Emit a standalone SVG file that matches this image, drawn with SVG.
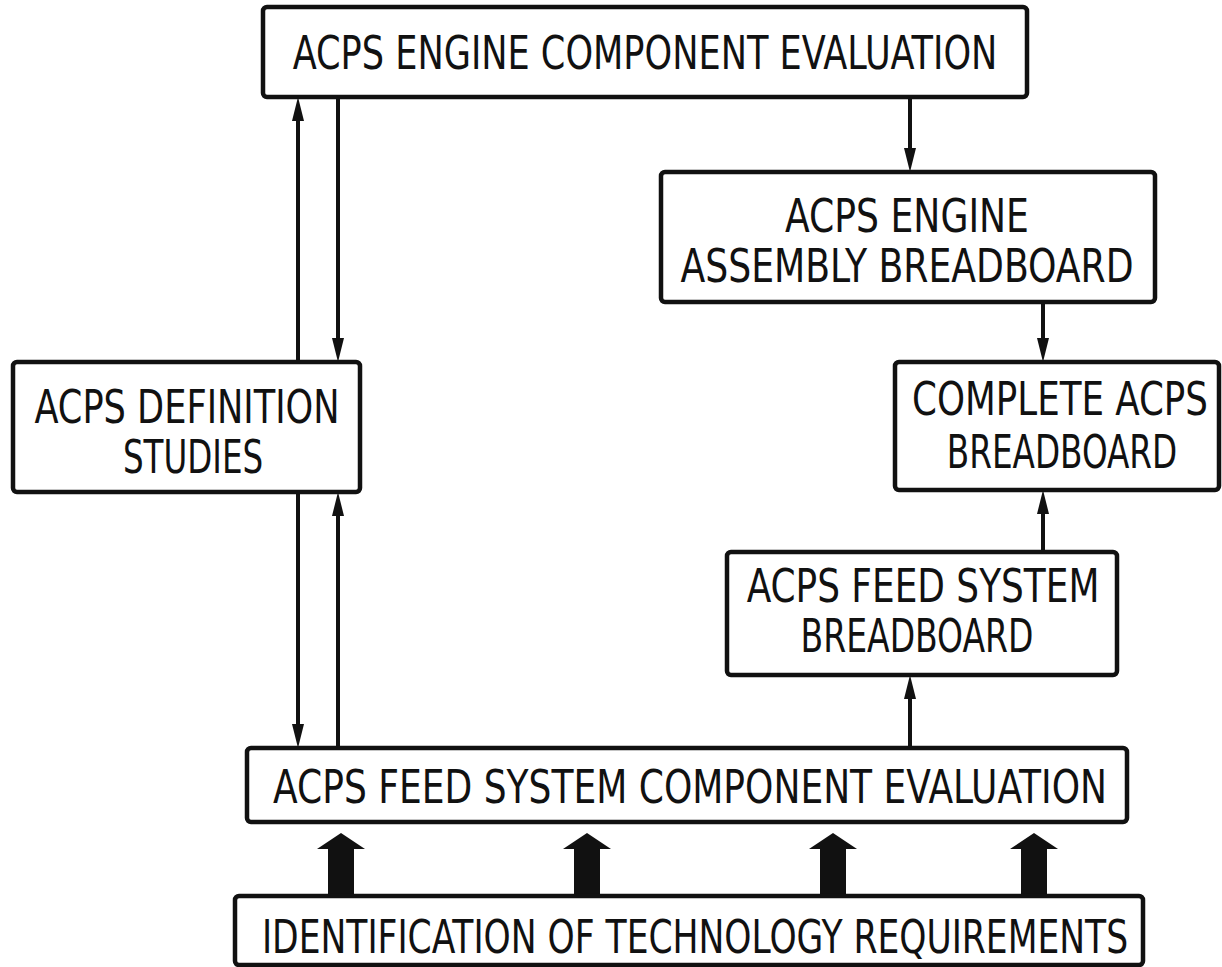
<svg xmlns="http://www.w3.org/2000/svg" width="1222" height="967" viewBox="0 0 1222 967">
<style>
.box{fill:#fff;stroke:#111;stroke-width:4.5}
.t{font-family:"DejaVu Sans Condensed","Liberation Sans Narrow","Liberation Sans",sans-serif;font-size:46px;fill:#111;text-anchor:middle}
.ln{stroke:#111;stroke-width:4;fill:none}
.blk{fill:#111}
</style>
<rect width="1222" height="967" fill="#fff"/>
<g id="connectors">
<line class="ln" x1="298" y1="362" x2="298" y2="115"/>
<path class="blk" d="M298,97 L292,121 L304,121 Z"/>
<line class="ln" x1="338" y1="97" x2="338" y2="340"/>
<path class="blk" d="M338,362 L332,338 L344,338 Z"/>
<line class="ln" x1="910" y1="97" x2="910" y2="150"/>
<path class="blk" d="M910,172 L904,148 L916,148 Z"/>
<line class="ln" x1="1043" y1="302" x2="1043" y2="340"/>
<path class="blk" d="M1043,362 L1037,338 L1049,338 Z"/>
<line class="ln" x1="1043" y1="552" x2="1043" y2="510"/>
<path class="blk" d="M1043,490 L1037,514 L1049,514 Z"/>
<line class="ln" x1="910" y1="748" x2="910" y2="695"/>
<path class="blk" d="M910,675 L904,699 L916,699 Z"/>
<line class="ln" x1="298" y1="492" x2="298" y2="726"/>
<path class="blk" d="M298,748 L292,724 L304,724 Z"/>
<line class="ln" x1="338" y1="748" x2="338" y2="512"/>
<path class="blk" d="M338,492 L332,516 L344,516 Z"/>
<path class="blk" d="M341,833 L365,849 L354,849 L354,897 L328,897 L328,849 L317,849 Z"/>
<path class="blk" d="M587,833 L611,849 L600,849 L600,897 L574,897 L574,849 L563,849 Z"/>
<path class="blk" d="M833,833 L857,849 L846,849 L846,897 L820,897 L820,849 L809,849 Z"/>
<path class="blk" d="M1034,833 L1058,849 L1047,849 L1047,897 L1021,897 L1021,849 L1010,849 Z"/>
</g>
<g id="n-engine-eval">
<rect class="box" x="263" y="7" width="764" height="90" rx="4"/>
<text class="t" transform="translate(645,69) scale(0.85,1)" textLength="829" lengthAdjust="spacingAndGlyphs">ACPS ENGINE COMPONENT EVALUATION</text>
</g>
<g id="n-engine-assembly">
<rect class="box" x="661" y="172" width="494" height="130" rx="4"/>
<text class="t" transform="translate(907,232) scale(0.85,1)" textLength="287" lengthAdjust="spacingAndGlyphs">ACPS ENGINE</text>
<text class="t" transform="translate(907,282) scale(0.85,1)" textLength="533" lengthAdjust="spacingAndGlyphs">ASSEMBLY BREADBOARD</text>
</g>
<g id="n-complete">
<rect class="box" x="895" y="362" width="324" height="128" rx="4"/>
<text class="t" transform="translate(1060,415) scale(0.85,1)" textLength="348" lengthAdjust="spacingAndGlyphs">COMPLETE ACPS</text>
<text class="t" transform="translate(1062,468) scale(0.85,1)" textLength="271" lengthAdjust="spacingAndGlyphs">BREADBOARD</text>
</g>
<g id="n-definition">
<rect class="box" x="13" y="362" width="347" height="130" rx="4"/>
<text class="t" transform="translate(187,423) scale(0.85,1)" textLength="359" lengthAdjust="spacingAndGlyphs">ACPS DEFINITION</text>
<text class="t" transform="translate(193,473) scale(0.85,1)" textLength="165" lengthAdjust="spacingAndGlyphs">STUDIES</text>
</g>
<g id="n-feed-breadboard">
<rect class="box" x="727" y="552" width="390" height="123" rx="4"/>
<text class="t" transform="translate(923,602) scale(0.85,1)" textLength="415" lengthAdjust="spacingAndGlyphs">ACPS FEED SYSTEM</text>
<text class="t" transform="translate(917,652) scale(0.85,1)" textLength="274" lengthAdjust="spacingAndGlyphs">BREADBOARD</text>
</g>
<g id="n-feed-eval">
<rect class="box" x="247" y="748" width="880" height="74" rx="4"/>
<text class="t" transform="translate(690,803) scale(0.85,1)" textLength="981" lengthAdjust="spacingAndGlyphs">ACPS FEED SYSTEM COMPONENT EVALUATION</text>
</g>
<g id="n-identification">
<rect class="box" x="235" y="896" width="908" height="69" rx="4"/>
<text class="t" transform="translate(695,953) scale(0.85,1)" textLength="1019" lengthAdjust="spacingAndGlyphs">IDENTIFICATION OF TECHNOLOGY REQUIREMENTS</text>
</g>
</svg>
